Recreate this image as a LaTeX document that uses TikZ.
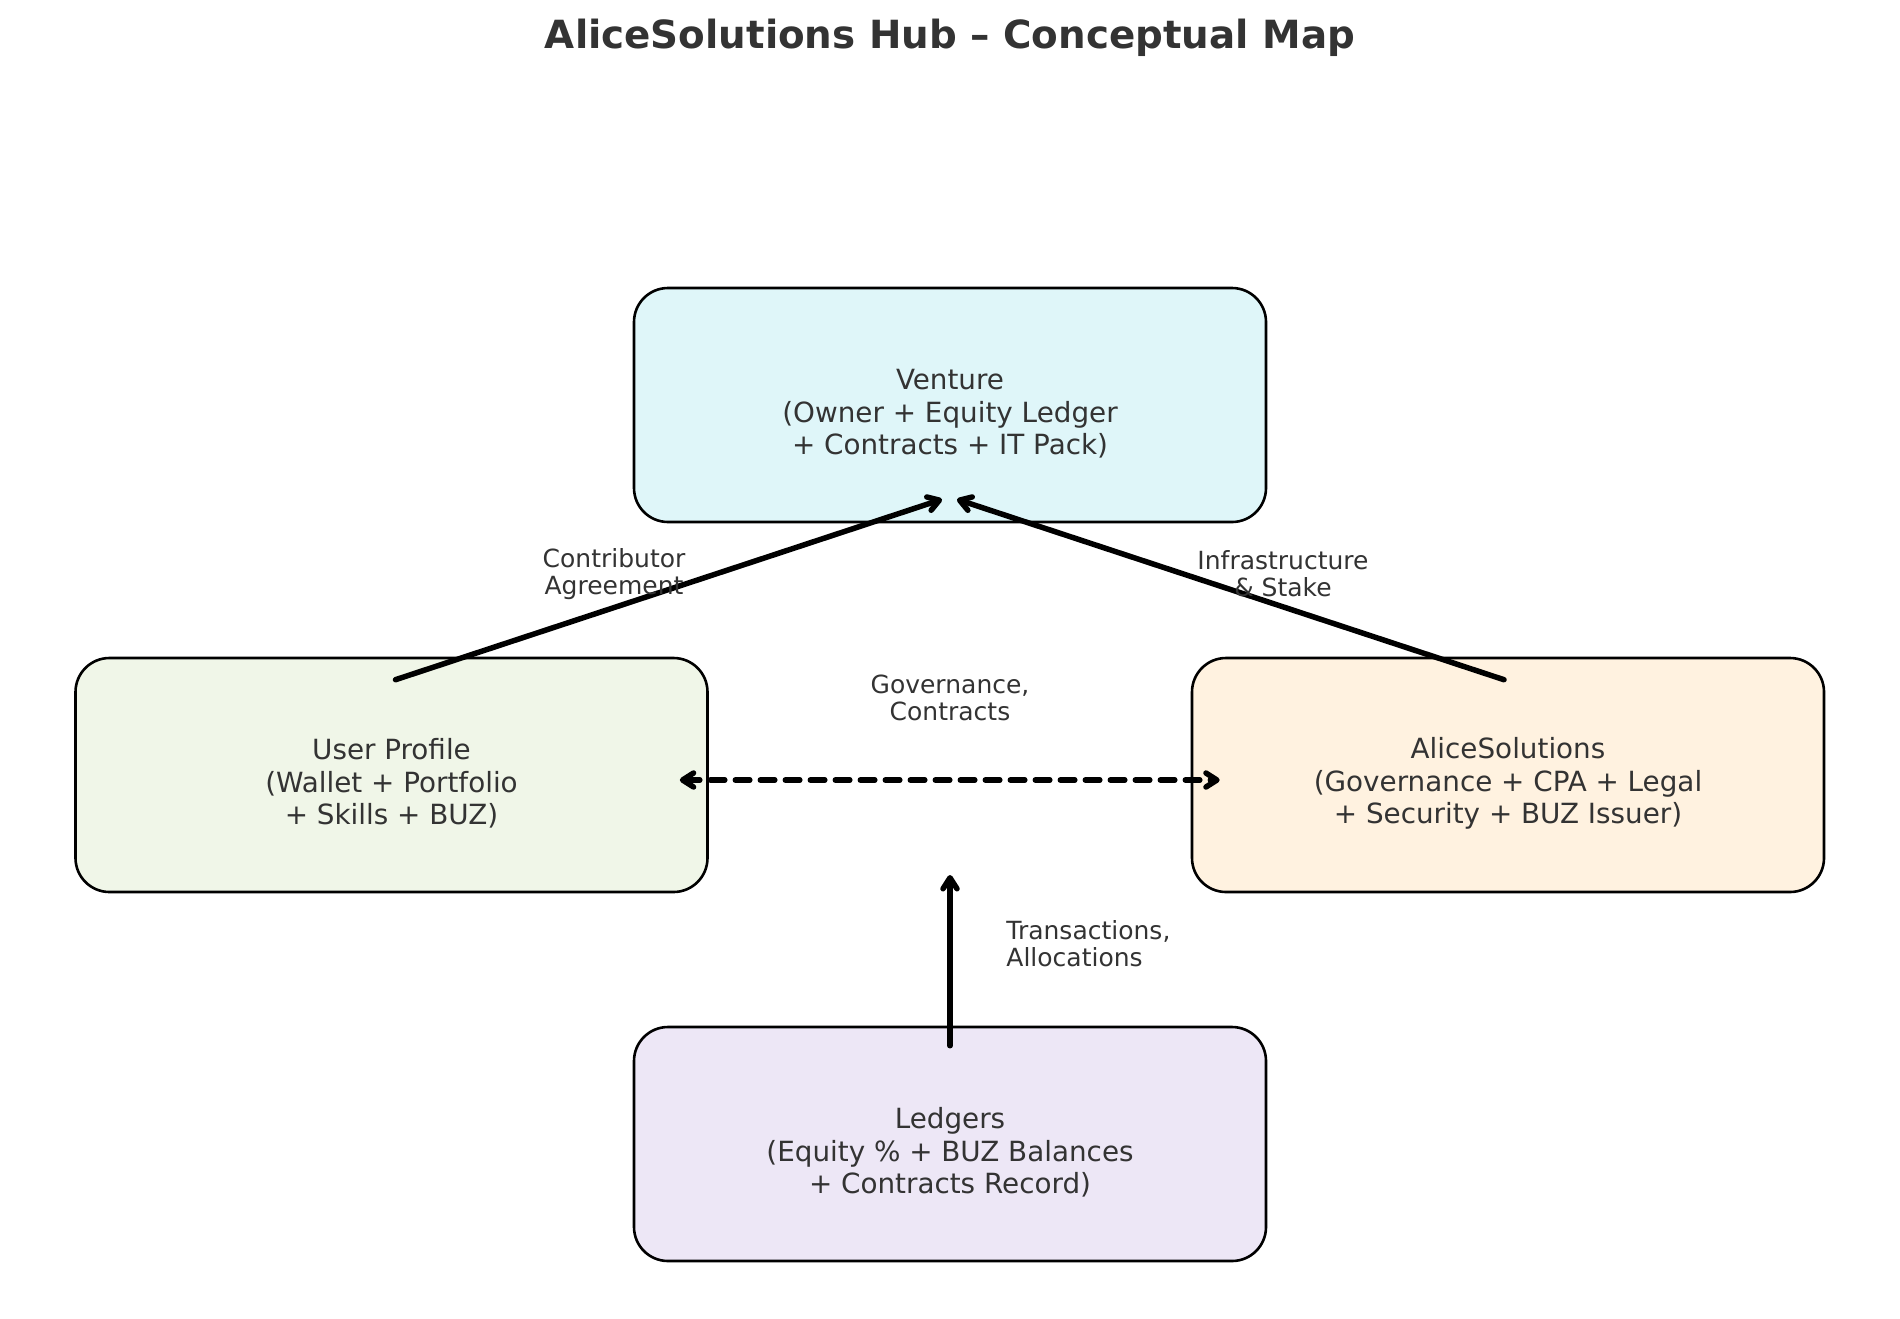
\documentclass[tikz,border=0pt]{standalone}
\usepackage{fontspec}
\setmainfont{DejaVu Sans}
\usetikzlibrary{arrows.meta}
\definecolor{txt}{HTML}{333333}
\definecolor{cven}{HTML}{DFF6F9}
\definecolor{cusr}{HTML}{F0F6E8}
\definecolor{cali}{HTML}{FFF2E0}
\definecolor{cled}{HTML}{EDE7F6}
\newcommand{\toppad}{\rule{0pt}{19pt}}
\tikzset{
  box/.style={draw=black, line width=1.3pt, rounded corners=17pt, minimum width=316pt, minimum height=117pt,
    align=center, text=txt, font=\fontsize{13.9}{16.4}\selectfont, inner sep=0pt},
  lbl/.style={text=txt, font=\fontsize{12.5}{13.4}\selectfont, align=center, inner sep=0pt},
  conn/.style={line width=2.75pt, line cap=round, draw=black,
    -{Straight Barb[length=5.5pt,width=7pt,line cap=round,line join=round]}},
  dconn/.style={line width=2.75pt, line cap=round, draw=black,
    {Straight Barb[length=5.5pt,width=7pt,line cap=round,line join=round]}-{Straight Barb[length=5.5pt,width=7pt,line cap=round,line join=round]},
    dash pattern=on 7.25pt off 5.25pt}
}
\begin{document}
\begin{tikzpicture}[x=0.5pt,y=-0.5pt]
\useasboundingbox[fill=white] (0,0) rectangle (1900,1318);
\node[font=\fontsize{19.4}{23}\selectfont\bfseries, text=txt, inner sep=0pt] (title) at (950,38) {AliceSolutions Hub – Conceptual Map};
\node[box, fill=cven] (ven) at (950,405) {\toppad Venture\\(Owner + Equity Ledger\\+ Contracts + IT Pack)};
\node[box, fill=cusr] (usr) at (391.5,775) {\toppad User Profile\\(Wallet + Portfolio\\+ Skills + BUZ)};
\node[box, fill=cali] (ali) at (1508,775) {\toppad AliceSolutions\\(Governance + CPA + Legal\\+ Security + BUZ Issuer)};
\node[box, fill=cled] (led) at (950,1144) {\toppad Ledgers\\(Equity \% + BUZ Balances\\+ Contracts Record)};
\coordinate (txend) at (950,875);
\draw[conn] ([xshift=2pt,yshift=-11.5pt]usr.north) -- ([xshift=-4pt,yshift=12pt]ven.south);
\draw[conn] ([xshift=-2pt,yshift=-11.5pt]ali.north) -- ([xshift=3.5pt,yshift=12pt]ven.south);
\draw[dconn] ([xshift=-14.5pt,yshift=-2.5pt]usr.east) -- ([xshift=14.5pt,yshift=-2.5pt]ali.west);
\draw[conn] ([yshift=-10pt]led.north) -- (txend);
\node[lbl] (lca) at (614,574) {Contributor\\Agreement};
\node[lbl] (lis) at (1283,574) {Infrastructure\\\& Stake};
\node[lbl] (lgc) at (950,698) {Governance,\\Contracts};
\node[lbl, anchor=west, align=left] (lta) at (1006,944) {Transactions,\\Allocations};
\end{tikzpicture}
\end{document}
